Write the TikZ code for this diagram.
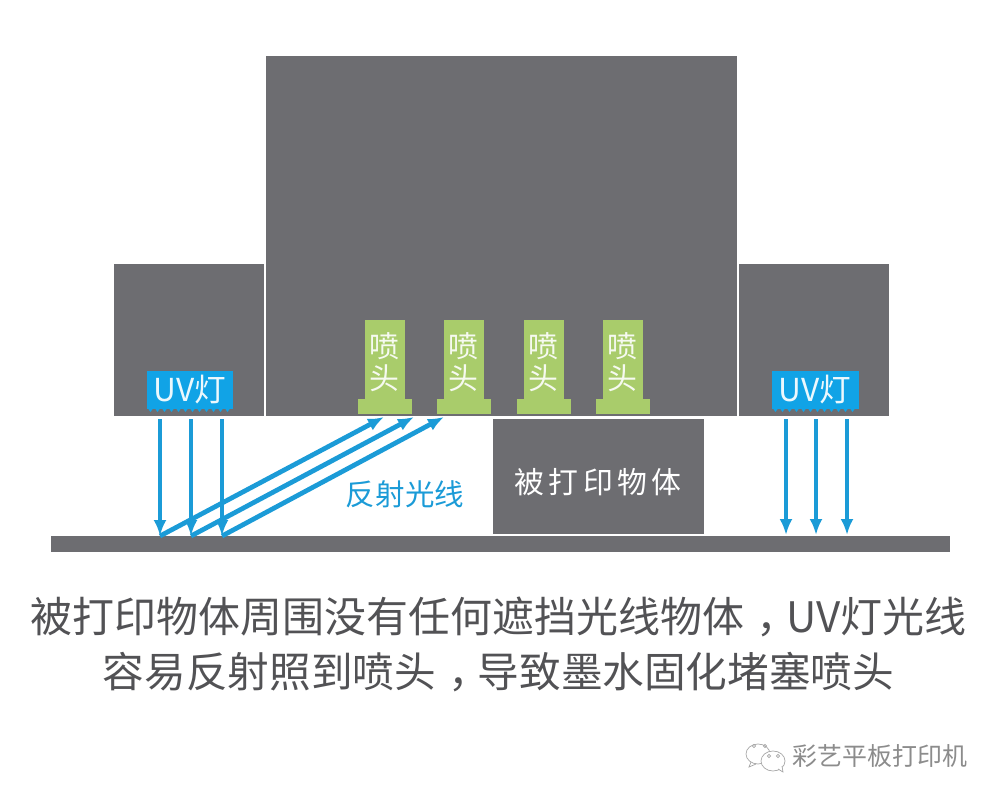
\documentclass[tikz,border=0pt]{standalone}
\usepackage{fontspec}
\usepackage{xcolor}
\setmainfont{Noto Sans CJK SC}
\usetikzlibrary{arrows.meta}
\definecolor{blockgray}{HTML}{6D6D71}
\definecolor{lampblue}{HTML}{11A3E6}
\definecolor{raysblue}{HTML}{1B9BD7}
\definecolor{headgreen}{HTML}{A9CC6B}
\newcommand{\pxfont}[1]{\fontsize{#1}{#1}\selectfont}
\newcommand{\midcomma}{\hspace*{0.3em}，\hspace{-0.3em}}
\begin{document}
\begin{tikzpicture}[
  x=0.02cm, y=-0.02cm,
  >={Latex[length=0.32cm,width=0.26cm]},
  block/.style={fill=blockgray, inner sep=0pt, text=white},
  lamp/.style={fill=lampblue, inner sep=0pt, minimum width=1.74cm, minimum height=0.76cm,
               text=white!92!lampblue, font=\pxfont{18pt}},
  ray/.style={->, draw=raysblue, line width=2.7pt},
  nozzle/.style={fill=headgreen, inner sep=0pt, minimum width=0.8cm, minimum height=1.6cm},
  nozzletext/.style={text=white!90!headgreen, align=center, inner sep=0pt,
                     font=\fontsize{17pt}{18.5pt}\selectfont},
  nozzlebase/.style={fill=headgreen, inner sep=0pt, minimum width=1.08cm, minimum height=0.3cm},
  caption/.style={text=blockgray!75!black}
]
  \useasboundingbox (0,0) rectangle (1000,800);
  % carriage
  \node[block, minimum width=3cm, minimum height=3.04cm] (blockleft) at (189,340) {};
  \node[block, minimum width=9.42cm, minimum height=7.2cm] (blockmid) at (501.5,236) {};
  \node[block, minimum width=3cm, minimum height=3.04cm] (blockright) at (814,340) {};
  % floor and object
  \node[block, minimum width=17.98cm, minimum height=0.32cm] (floor) at (500.5,544) {};
  \node[block, minimum width=4.22cm, minimum height=2.3cm] (object) at (598.5,476.5) {};
  \node[text=white, font=\pxfont{17pt}] (objectlabel) at (598,482)
     {被\hspace{0.14em}打\hspace{0.14em}印\hspace{0.14em}物\hspace{0.14em}体};
  % lamps
  \node[lamp] (lampleft) at (190,390) {UV灯};
  \node[lamp] (lampright) at (815,390) {UV灯};
  \foreach \x in {147,154,...,228} \fill[lampblue] (\x,407) -- (\x+7,407) -- (\x+3.5,412) -- cycle;
  \foreach \x in {772,779,...,853} \fill[lampblue] (\x,407) -- (\x+7,407) -- (\x+3.5,412) -- cycle;
  % nozzles
  \foreach \x/\n in {385/a,464/b,544/c,623/d} {
    \node[nozzle] (noz\n) at (\x,360) {};
    \node[nozzletext] (label\n) at (\x-1,362) {喷\\头};
    \node[nozzlebase] (base\n) at (\x,406.5) {};
  }
  % rays on the left, with their reflection
  \foreach \x/\e/\n in {160/384/a,191/414/b,222/444/c} {
    \coordinate (top\n) at (\x,419);
    \coordinate (hit\n) at (\x,536);
    \coordinate (end\n) at (\e,417);
    \draw[ray] (top\n) -- (hit\n);
    \draw[ray] (hit\n) -- (end\n);
  }
  % rays on the right
  \foreach \x/\n in {786/d,816/e,847/f} {
    \coordinate (top\n) at (\x,419);
    \coordinate (hit\n) at (\x,535);
    \draw[ray] (top\n) -- (hit\n);
  }
  \node[text=raysblue, font=\pxfont{16.8pt}] (raylabel) at (405,494) {反射光线};
  % caption
  \node[caption, font=\pxfont{23.9pt}] (captiona) at (498.5,616.5) {被打印物体周围没有任何遮挡光线物体\midcomma UV灯光线};
  \node[caption, font=\pxfont{23.7pt}] (captionb) at (498.5,672) {容易反射照到喷头\midcomma 导致墨水固化堵塞喷头};
  % mark at the corner
  \node[text=gray!90, font=\pxfont{14.2pt}] (mark) at (880,756) {彩艺平板打印机};
  \draw[gray!70, line width=0.4pt] (758,754) ellipse (12 and 10);
  \draw[gray!70, line width=0.4pt] (751,762) -- (749,767) -- (756,764);
  \draw[gray!70, line width=0.4pt, fill=white] (773,761) ellipse (12 and 10);
  \draw[gray!70, line width=0.4pt, fill=white] (778,769) -- (783,772) -- (782,766);
  \foreach \x/\y in {754/746,765/746,769/756,778/756} \draw[gray!70, line width=0.4pt] (\x,\y) circle (1.6);
\end{tikzpicture}
\end{document}
